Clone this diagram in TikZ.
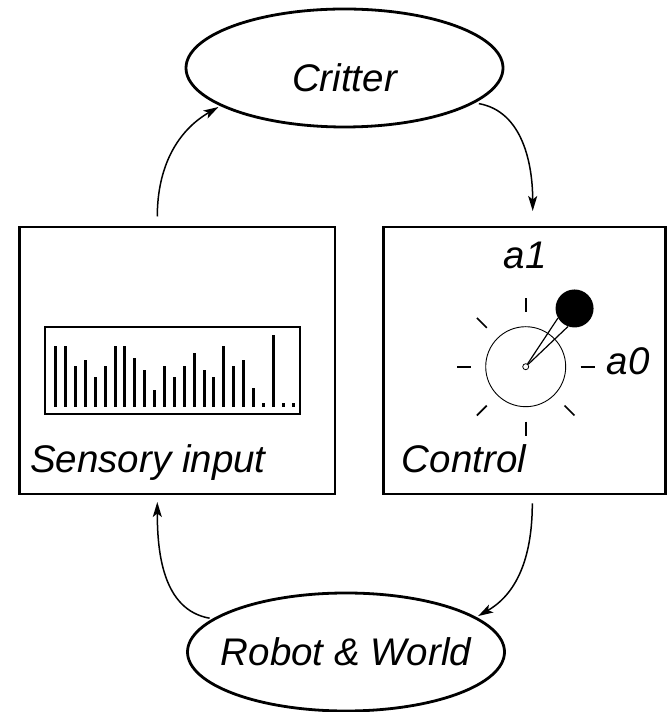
\documentclass[tikz,border=0pt]{standalone}
\usepackage{fontspec}
\setmainfont{Liberation Sans}
\usetikzlibrary{arrows.meta,shapes.geometric,positioning}

\begin{document}
\begin{tikzpicture}[x=1pt,y=1pt,
	blob/.style={ellipse,draw,line width=2.8pt,minimum width=317,minimum height=118,inner sep=0},
	panel/.style={rectangle,draw,line width=2.5pt,inner sep=0},
	caption/.style={font=\fontsize{38.5}{40}\selectfont\itshape,inner sep=0},
	flow/.style={line width=1.5pt,shorten >=2pt,-{Stealth[length=15pt,width=9pt,inset=3.5pt]}},
	bar/.style={fill=black},
	tick/.style={line width=1.7pt}]
	\useasboundingbox (0,0) rectangle (667,712);

	\node[blob,label={[caption,yshift=-10pt]center:Critter}] (critter) at (344.5,644) {};
	\node[blob] (robot) at (346,60) {};
	\node[caption] (robotlabel) at (robot.center) {Robot \& World};

	\node[panel,minimum width=315.5,minimum height=267] (sensory) at (177.25,351.5) {};
	\node[panel,minimum width=282.2,minimum height=267] (control) at (524.4,351.5) {};

	\node[caption,anchor=base west] (sensorylabel) at (30,239.3) {Sensory input};
	\node[caption,anchor=base west] (controllabel) at (401.7,239.3) {Control};

	% histogram
	\node[panel,line width=2pt,minimum width=255,minimum height=87.3] (chart) at (172.5,341.6) {};
	\foreach \h [count=\i from 0] in {60.7,60.7,40.7,46.7,30,40.7,60.7,60.7,48.3,36.7,16.7,40.7,30,40.7,53.3,36.7,30,60.7,40.7,46.7,18.3,3.3,71.7,3.3,3.3}
		\fill[bar] ({55.7+9.89*\i-1.5},305.3) rectangle ++(3,\h);

	% dial
	\node[circle,draw,line width=0.8pt,minimum size=6,inner sep=0] (pivot) at (525.7,345.3) {};
	\node[circle,draw,line width=0.9pt,minimum size=80,inner sep=0] (ring) at (pivot.center) {};
	\foreach \a in {0,90,135,180,225,270,315}
		\draw[tick] ([shift={(\a:55)}]pivot.center) -- ([shift={(\a:69)}]pivot.center);
	\node[circle,fill=black,minimum size=38,inner sep=0] (knob) at ([shift={(50:76)}]pivot.center) {};
	\draw[line width=1.2pt] (pivot) -- (knob.210);
	\draw[line width=1.2pt] (pivot) -- (knob.250);

	\node[caption,anchor=base] (aone) at (525,443.7) {a1};
	\node[caption,anchor=base west] (azero) at (606.7,337) {a0};

	% loop
	\coordinate (sensoryout) at (157.3,495.5);
	\coordinate (controlin) at (532.7,499);
	\coordinate (controlout) at (532.3,208.7);
	\coordinate (sensoryin) at (157.3,212);
	\draw[flow] (sensoryout) to[out=90,in=210] (critter.197);
	\draw[flow,shorten <=4pt] (critter.-15) to[out=-10,in=90] (controlin);
	\draw[flow] (controlout) to[out=270,in=30] (robot.15);
	\draw[flow,shorten <=3pt] (robot.166) to[out=170,in=270] (sensoryin);
\end{tikzpicture}
\end{document}
